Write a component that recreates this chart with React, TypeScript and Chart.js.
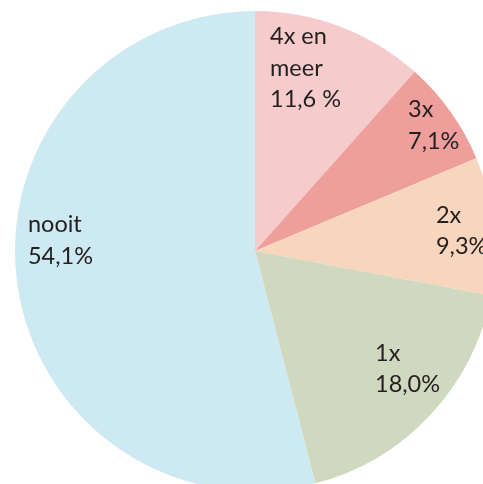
import React, { useEffect, useRef } from "react";
import { Chart, registerables } from "chart.js";

Chart.register(...registerables);

const categories = ["4x en meer", "3x", "2x", "1x", "nooit"];
const values = [11.6, 7.1, 9.3, 18.0, 54.1];
const labelLines = [["4x en", "meer", "11,6 %"], ["3x", "7,1%"], ["2x", "9,3%"], ["1x", "18,0%"], ["nooit", "54,1%"]];
const colors = ["#f5cccb", "#ee9f9c", "#f8d5bd", "#d0d8c0", "#cde9f1"];
// label anchor offsets relative to pie centre, in units of radius (first baseline, left aligned)
const labelOffsets = [
  [0.0625, -0.8625],
  [0.6375, -0.558],
  [0.754, -0.117],
  [0.5, 0.458],
  [-0.946, -0.079],
];

const labelPlugin = {
  id: "sliceLabels",
  afterDatasetsDraw(chart: any) {
    const ctx = chart.ctx;
    const meta = chart.getDatasetMeta(0);
    ctx.save();
    ctx.fillStyle = "#231f20";
    ctx.font = "23.5px Lato";
    ctx.textAlign = "left";
    ctx.textBaseline = "alphabetic";
    meta.data.forEach((arc: any, i: number) => {
      const r = arc.outerRadius;
      const x = arc.x + labelOffsets[i][0] * r;
      let y = arc.y + labelOffsets[i][1] * r;
      labelLines[i].forEach((line) => {
        ctx.fillText(line, x, y);
        y += 31.5;
      });
    });
    ctx.restore();
  },
};

export default function App() {
  const ref = useRef<HTMLCanvasElement | null>(null);
  useEffect(() => {
    if (!ref.current) return;
    const chart = new Chart(ref.current, {
      type: "pie",
      data: {
        labels: categories,
        datasets: [
          {
            data: values,
            backgroundColor: colors,
            borderWidth: 0,
          },
        ],
      },
      options: {
        responsive: false,
        animation: false,
        devicePixelRatio: 1,
        layout: { padding: 3 },
        plugins: {
          legend: { display: false },
          tooltip: { enabled: false },
        },
      },
      plugins: [labelPlugin],
    });
    return () => chart.destroy();
  }, []);
  return (
    <div style={{ position: "fixed", left: 0, top: 0, width: 483, height: 484, overflow: "hidden", background: "#fff" }}>
      <canvas ref={ref} width={494} height={486} style={{ display: "block", position: "absolute", left: 8, top: 8 }} />
    </div>
  );
}
